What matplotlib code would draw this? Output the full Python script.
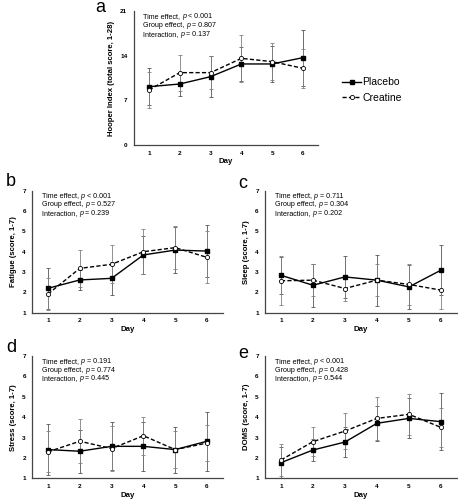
import matplotlib.pyplot as plt
import numpy as np
from matplotlib.offsetbox import TextArea, HPacker, VPacker, AnchoredOffsetbox

plt.rcParams['font.family'] = ['Liberation Sans', 'DejaVu Sans']

days = [1, 2, 3, 4, 5, 6]

# Hooper index (a)
hooper_pla = [9.14, 9.56, 10.71, 12.7, 12.7, 13.69]
hooper_pla_sd = [2.9, 1.9, 3.2, 2.7, 2.8, 4.4]
hooper_cre = [8.62, 11.34, 11.34, 13.58, 13.06, 12.02]
hooper_cre_sd = [2.8, 2.8, 2.6, 3.7, 2.9, 3.1]

# Fatigue (b)
fatigue_pla = [2.20, 2.61, 2.69, 3.84, 4.08, 4.03]
fatigue_pla_sd = [1.0, 0.5, 0.8, 0.95, 1.15, 1.27]
fatigue_cre = [1.92, 3.18, 3.38, 4.0, 4.20, 3.72]
fatigue_cre_sd = [0.8, 0.9, 0.93, 1.1, 1.05, 1.28]

# Sleep (c)
sleep_pla = [2.84, 2.35, 2.76, 2.60, 2.27, 3.09]
sleep_pla_sd = [0.9, 1.06, 1.04, 1.25, 1.1, 1.24]
sleep_cre = [2.57, 2.60, 2.19, 2.60, 2.39, 2.11]
sleep_cre_sd = [1.2, 0.8, 0.6, 0.8, 1.0, 0.95]

# Stress (d)
stress_pla = [2.41, 2.33, 2.57, 2.57, 2.41, 2.82]
stress_pla_sd = [1.25, 1.05, 1.17, 1.21, 1.13, 1.45]
stress_cre = [2.30, 2.82, 2.46, 3.09, 2.41, 2.73]
stress_cre_sd = [1.0, 1.08, 1.1, 0.94, 0.9, 0.9]

# DOMS (e)
doms_pla = [1.77, 2.39, 2.78, 3.70, 3.94, 3.78]
doms_pla_sd = [0.75, 0.55, 0.72, 0.85, 0.98, 1.39]
doms_cre = [1.90, 2.80, 3.32, 3.94, 4.14, 3.50]
doms_cre_sd = [0.78, 0.7, 0.9, 1.06, 1.0, 0.95]

stat_names = ["Time effect", "Group effect", "Interaction"]
stats_a = ["< 0.001", "= 0.807", "= 0.137"]
stats_b = ["< 0.001", "= 0.527", "= 0.239"]
stats_c = ["= 0.711", "= 0.304", "= 0.202"]
stats_d = ["= 0.191", "= 0.774", "= 0.445"]
stats_e = ["< 0.001", "= 0.428", "= 0.544"]


def stats_box(ax, stats):
    fs = 5.1
    rows = []
    for name, val in zip(stat_names, stats):
        rows.append(HPacker(children=[
            TextArea(name + ", ", textprops=dict(fontsize=fs)),
            TextArea("p", textprops=dict(fontsize=fs, style='italic')),
            TextArea(" " + val, textprops=dict(fontsize=fs)),
        ], pad=0, sep=0, align='baseline'))
    box = VPacker(children=rows, align='left', pad=0, sep=1.3)
    anc = AnchoredOffsetbox(loc='upper left', child=box, bbox_to_anchor=(0.05, 0.985),
                            bbox_transform=ax.transAxes, frameon=False, pad=0, borderpad=0)
    ax.add_artist(anc)


def panel(fig, rect, pla, pla_sd, cre, cre_sd, ylabel, yticks, stats, letter, letter_xy):
    ax = fig.add_axes(rect)
    ax.errorbar(days, pla, yerr=pla_sd, fmt='none', ecolor='#555555',
                elinewidth=0.6, capsize=1.6, capthick=0.6, zorder=1)
    ax.errorbar(days, cre, yerr=cre_sd, fmt='none', ecolor='#808080',
                elinewidth=0.6, capsize=1.6, capthick=0.6, zorder=1)
    l1, = ax.plot(days, pla, '-', color='black', lw=1.0, marker='s', ms=3.2,
                  mfc='black', mec='black', zorder=3, label='Placebo')
    l2, = ax.plot(days, cre, '--', color='black', lw=1.0, marker='o', ms=3.0,
                  mfc='white', mec='black', mew=0.6, zorder=3, label='Creatine',
                  dashes=(3, 1.6))
    ax.set_xlim(0.5, 6.5)
    ax.set_ylim(yticks[0], yticks[-1])
    ax.set_xticks(days)
    ax.set_yticks(yticks)
    ax.tick_params(length=0, labelsize=4.6)
    ax.tick_params(axis='x', pad=4)
    ax.tick_params(axis='y', pad=4.5)
    for lab in ax.get_xticklabels() + ax.get_yticklabels():
        lab.set_fontweight('bold')
    for s in ['top', 'right']:
        ax.spines[s].set_visible(False)
    for s in ['left', 'bottom']:
        ax.spines[s].set_color('#444444')
        ax.spines[s].set_linewidth(0.9)
    ax.set_xlabel('Day', fontsize=5.6, fontweight='bold', labelpad=2)
    ax.set_ylabel(ylabel, fontsize=5.6, fontweight='bold', labelpad=4)
    stats_box(ax, stats)
    fig.text(letter_xy[0], letter_xy[1], letter, fontsize=13, ha='center', va='center')
    return ax, l1, l2


fig = plt.figure(figsize=(4.58, 5.0), dpi=100)

ax_a, h1, h2 = panel(fig, [0.2917, 0.71, 0.4035, 0.268], hooper_pla, hooper_pla_sd,
                     hooper_cre, hooper_cre_sd, 'Hooper Index (total score, 1-28)',
                     [0, 7, 14, 21], stats_a, 'a', (100 / 458, 1 - 8 / 500))
panel(fig, [0.0701, 0.3746, 0.4166, 0.244], fatigue_pla, fatigue_pla_sd,
      fatigue_cre, fatigue_cre_sd, 'Fatigue (score, 1-7)',
      [1, 2, 3, 4, 5, 6, 7], stats_b, 'b', (11 / 458, 1 - 181 / 500))
panel(fig, [0.5786, 0.3746, 0.419, 0.244], sleep_pla, sleep_pla_sd,
      sleep_cre, sleep_cre_sd, 'Sleep (score, 1-7)',
      [1, 2, 3, 4, 5, 6, 7], stats_c, 'c', (243 / 458, 1 - 184 / 500))
panel(fig, [0.0701, 0.0433, 0.4166, 0.2447], stress_pla, stress_pla_sd,
      stress_cre, stress_cre_sd, 'Stress (score, 1-7)',
      [1, 2, 3, 4, 5, 6, 7], stats_d, 'd', (11 / 458, 1 - 348 / 500))
panel(fig, [0.5786, 0.0433, 0.419, 0.2447], doms_pla, doms_pla_sd,
      doms_cre, doms_cre_sd, 'DOMS (score, 1-7)',
      [1, 2, 3, 4, 5, 6, 7], stats_e, 'e', (243 / 458, 1 - 353 / 500))

fig.legend([h1, h2], ['Placebo', 'Creatine'], loc='center left',
           bbox_to_anchor=(333 / 458, 1 - 90 / 500), frameon=False,
           fontsize=7.5, handlelength=1.8, handletextpad=0.1, labelspacing=0.5)

fig.savefig('out.png', dpi=100)
